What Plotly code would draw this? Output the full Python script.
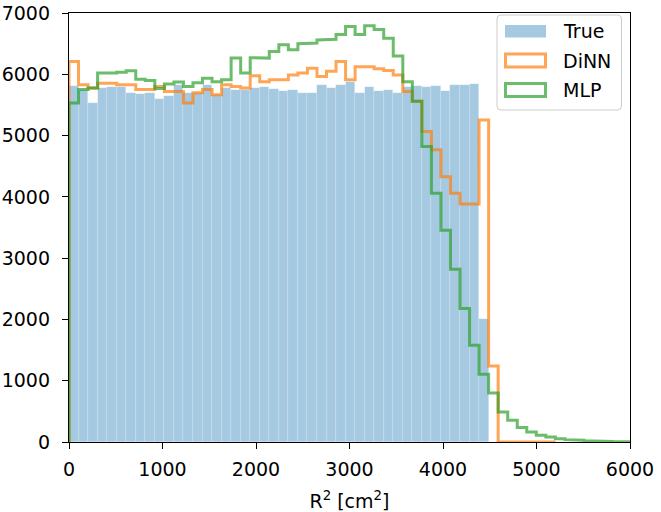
import numpy as np
import plotly.graph_objects as go

# ---------------- data ----------------
BIN_W = 102.0  # common histogram bin width in cm^2

true_counts = [5810, 5750, 5530, 5775, 5800, 5800, 5690, 5675, 5690, 5595,
               5640, 5830, 5690, 5700, 5830, 5660, 5780, 5750, 5745, 5775,
               5790, 5760, 5730, 5750, 5690, 5700, 5830, 5775, 5830, 5880,
               5690, 5800, 5720, 5745, 5690, 5800, 5810, 5790, 5810, 5720,
               5830, 5830, 5845, 2000]

dinn_counts = [6210, 5830, 5775, 5855, 5855, 5830, 5830, 5750, 5750, 5800,
               5720, 5720, 5530, 5700, 5750, 5665, 5830, 5800, 5775, 5975,
               5880, 5910, 5910, 5990, 6020, 6100, 5965, 6050, 6210, 5910,
               6125, 6125, 6090, 6060, 5990, 5720, 5560, 5065, 4770, 4330,
               4060, 3885, 3885, 5255, 1240, 0, 0, 0, 0, 0, 0]

mlp_counts = [5530, 5750, 5775, 6020, 6020, 6035, 6057, 5920, 5900, 5770,
              5840, 5875, 5800, 5860, 5935, 5880, 5910, 6265, 6020, 6270,
              6264, 6373, 6480, 6400, 6500, 6510, 6560, 6570, 6650, 6780,
              6650, 6790, 6730, 6590, 6300, 5880, 5560, 4820, 4058, 3456,
              2817, 2180, 1580, 1106, 801, 490, 355, 235, 163, 110,
              82, 55, 38, 28, 20, 14, 10, 7, 5]

series_names = ["True", "DiNN", "MLP"]
x_ticks = [0, 1000, 2000, 3000, 4000, 5000, 6000]
y_ticks = [0, 1000, 2000, 3000, 4000, 5000, 6000, 7000]

# ---------------- styling ----------------
C_TRUE = "rgba(31,119,180,0.4)"
C_DINN = "rgba(255,127,14,0.7)"
C_MLP = "rgba(44,160,44,0.7)"
FONT = "DejaVu Sans"
FS = 19

W, H = 661, 512
# plot area in window pixels: x 69..630, y 13..442
PX0, PX1, PY0, PY1 = 69, 630, 13, 442
ML, MT = PX0, PY0
MR = W - PX1
MB = H - PY1


def step_xy(counts, width):
    counts = np.asarray(counts, dtype=float)
    edges = np.arange(len(counts) + 1) * width
    xs = np.repeat(edges, 2)
    ys = np.concatenate([[0.0], np.repeat(counts, 2), [0.0]])
    return xs, ys


fig = go.Figure()

tc = np.asarray(true_counts, dtype=float)
t_edges = np.arange(len(tc) + 1) * BIN_W
fig.add_trace(go.Bar(
    x=(t_edges[:-1] + t_edges[1:]) / 2, y=tc, width=BIN_W,
    name=series_names[0], marker=dict(color=C_TRUE,
                                      line=dict(color="rgba(255,255,255,0.35)", width=0.6)),
    showlegend=False))

for counts, color, name in [(dinn_counts, C_DINN, series_names[1]),
                            (mlp_counts, C_MLP, series_names[2])]:
    xs, ys = step_xy(counts, BIN_W)
    fig.add_trace(go.Scatter(x=xs, y=ys, mode="lines", name=name,
                             line=dict(color=color, width=3), showlegend=False))

# ---------------- manual legend (matplotlib-like) ----------------
pw = PX1 - PX0
ph = PY1 - PY0


def px(x):
    return (x - PX0) / pw


def py(y):
    return (PY1 - y) / ph


def rrect(x0, y0, x1, y1, r=4):
    X0, X1 = px(x0), px(x1)
    Y0, Y1 = py(y0), py(y1)  # Y0 top (larger), Y1 bottom
    rx, ry = r / pw, r / ph
    return (f"M{X0+rx},{Y0} L{X1-rx},{Y0} Q{X1},{Y0} {X1},{Y0-ry} "
            f"L{X1},{Y1+ry} Q{X1},{Y1} {X1-rx},{Y1} L{X0+rx},{Y1} "
            f"Q{X0},{Y1} {X0},{Y1+ry} L{X0},{Y0-ry} Q{X0},{Y0} {X0+rx},{Y0} Z")


shapes = [dict(type="path", xref="paper", yref="paper", path=rrect(497, 15, 621.5, 110),
               fillcolor="rgba(255,255,255,0.8)", line=dict(color="#cccccc", width=1),
               layer="above")]
rows = [31.2, 60.6, 90.0]
shapes.append(dict(type="rect", xref="paper", yref="paper",
                   x0=px(505), x1=px(546), y0=py(rows[0] - 6.3), y1=py(rows[0] + 6.3),
                   fillcolor=C_TRUE, line=dict(width=0), layer="above"))
for r, c in [(rows[1], C_DINN), (rows[2], C_MLP)]:
    shapes.append(dict(type="rect", xref="paper", yref="paper",
                       x0=px(505.5), x1=px(545.5), y0=py(r - 6.5), y1=py(r + 6.5),
                       fillcolor="rgba(0,0,0,0)", line=dict(color=c, width=3), layer="above"))

annotations = []
for r, name in zip(rows, series_names):
    annotations.append(dict(xref="paper", yref="paper", x=px(561), y=py(r),
                            xanchor="left", yanchor="middle", text=name, showarrow=False,
                            font=dict(family=FONT, size=FS, color="black")))

axis_common = dict(showgrid=False, zeroline=False, showline=True, mirror=True,
                   linecolor="black", linewidth=1.3, ticks="outside", ticklen=6,
                   tickwidth=1.3, tickcolor="black", automargin=False,
                   tickfont=dict(family=FONT, size=FS, color="black"))

fig.update_layout(
    width=W, height=H,
    margin=dict(l=ML, r=MR, t=MT, b=MB),
    paper_bgcolor="white", plot_bgcolor="white",
    bargap=0, barmode="overlay",
    showlegend=False,
    xaxis=dict(range=[0, 6000], tickvals=x_ticks, ticktext=[str(v) for v in x_ticks],
               ticklabelstandoff=4,
               title=dict(text="R<sup>2</sup> [cm<sup>2</sup>]",
                          font=dict(family=FONT, size=FS, color="black"), standoff=25),
               **axis_common),
    yaxis=dict(range=[0, 7000], tickvals=y_ticks, ticktext=[str(v) for v in y_ticks],
               ticklabelstandoff=8, **axis_common),
    shapes=shapes, annotations=annotations,
    font=dict(family=FONT, size=FS, color="black"),
)

fig.write_html("out.html", config={"displayModeBar": False},
               post_script="document.body.style.margin='0px';")
